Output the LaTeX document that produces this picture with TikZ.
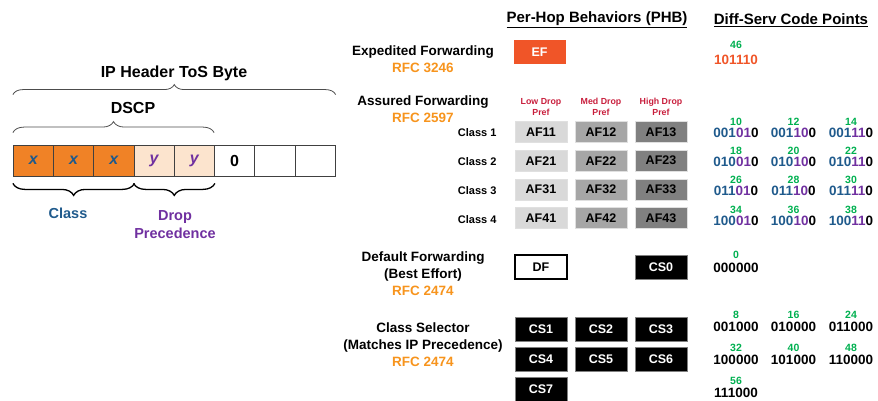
\documentclass[tikz,border=0pt]{standalone}
\usepackage{fontspec}
\setmainfont{Liberation Sans}
\usetikzlibrary{decorations.pathreplacing,positioning}
\definecolor{cellorange}{RGB}{240,130,38}
\definecolor{cellpeach}{RGB}{252,228,206}
\definecolor{clsblue}{RGB}{31,90,140}
\definecolor{dppurple}{RGB}{112,48,160}
\definecolor{rfcorange}{RGB}{247,148,29}
\definecolor{efred}{RGB}{240,85,40}
\definecolor{numgreen}{RGB}{0,176,80}
\definecolor{prefred}{RGB}{200,30,60}
\definecolor{afl}{RGB}{217,217,217}
\definecolor{afm}{RGB}{166,166,166}
\definecolor{afh}{RGB}{128,128,128}
\newcommand\bfs[2]{\fontsize{#1}{#2}\selectfont\bfseries}
\newcommand\dsbits[3]{\textcolor{clsblue}{#1}\textcolor{dppurple}{#2}#3}

\begin{document}
\begin{tikzpicture}[x=1pt,y=-1pt,
    cell/.style={draw=black!75,line width=.8pt,minimum width=40.25pt,minimum height=31pt,inner sep=0pt,font=\bfs{16}{16}},
    xcell/.style={cell,fill=cellorange,text=clsblue,font=\bfs{16}{16}\itshape},
    ycell/.style={cell,fill=cellpeach,text=dppurple,font=\bfs{16}{16}\itshape},
    topbrace/.style={decorate,decoration={brace,amplitude=#1},draw=black!70,line width=.8pt},
    lowbrace/.style={decorate,decoration={brace,amplitude=12pt,mirror},line width=1.3pt},
    group/.style={font=\bfs{13.5}{17},align=center},
    phb/.style={minimum width=52pt,minimum height=24pt,inner sep=0pt,font=\bfs{12.5}{12.5}},
    afbox/.style={phb,minimum height=21pt,draw=white!88!black,line width=.6pt},
    csbox/.style={phb,fill=black,text=white,draw=black!50},
    pref/.style={font=\bfs{8.8}{10.5},text=prefred,align=center,inner sep=1pt},
    num/.style={font=\bfs{10.5}{11},text=numgreen,inner sep=.5pt},
    bits/.style={font=\bfs{13.5}{14},inner sep=.5pt},
  ]
  \useasboundingbox (0,0) rectangle (878,401);
  % ToS byte
  \foreach \i/\kind/\bit in {1/xcell/x,2/xcell/x,3/xcell/x,4/ycell/y,5/ycell/y,6/cell/0,7/cell/{},8/cell/{}}
    \node[\kind] (c\i) at ({-6.85+40.25*\i},160.5) {\bit};
  \draw[topbrace=10pt] ([yshift=50pt]c1.north west) -- ([yshift=50pt]c8.north east);
  \draw[topbrace=11pt] ([yshift=12pt]c1.north west) -- ([yshift=12pt]c6.north west);
  \draw[lowbrace] ([yshift=-7pt]c1.south west) -- ([yshift=-7pt]c3.south east);
  \draw[lowbrace] ([yshift=-7pt]c4.south west) -- ([yshift=-7pt]c5.south east);
  \node[font=\bfs{16}{16}] (tos) at (174,73) {IP Header ToS Byte};
  \node[font=\bfs{16}{16}] (dscp) at (133,108) {DSCP};
  \node[font=\bfs{14.5}{18},text=clsblue] (class) at (68,213) {Class};
  \node[font=\bfs{14.5}{18},text=dppurple,align=center] (drop) at (175,225) {Drop\\Precedence};

  % headers
  \node[font=\bfs{15}{18}] (phbhdr) at (597,20) {\underline{Per-Hop Behaviors (PHB)}};
  \node[font=\bfs{15}{18}] (dscphdr) at (791,20) {\underline{Diff-Serv Code Points}};

  % EF
  \node[group] (eflbl) at (423,59.5) {Expedited Forwarding\\\textcolor{rfcorange}{RFC 3246}};
  \node[phb,fill=efred,text=white] (ef) at (539.5,52) {EF};
  \node[num] (n46) at (736,45) {46};
  \node[bits,text=efred] (b46) at (736,60) {101110};

  % AF
  \node[group] (aflbl) at (423,109.5) {Assured Forwarding\\\textcolor{rfcorange}{RFC 2597}};
  \foreach \c/\lvl in {1/Low,2/Med,3/High}
    \node[pref] (pref\c) at ({481+60*\c},107) {\lvl{} Drop\\Pref};
  \foreach \r/\clsbits in {1/001,2/010,3/011,4/100}{
    \node[font=\bfs{11}{11},anchor=east] (class\r) at (500,{133+28.7*(\r-1)}) {Class \r};
    \foreach \c/\tone/\dropbits in {1/afl/01,2/afm/10,3/afh/11}{
      \pgfmathtruncatemacro\afval{8*\r+2*\c}
      \node[afbox,fill=\tone] (af\r\c) at ({481+60*\c},{132+28.7*(\r-1)}) {AF\r\c};
      \node[bits] (afb\r\c) at ({678.5+57.5*\c},{132.5+29.3*(\r-1)}) {\dsbits{\clsbits}{\dropbits}{0}};
      \node[num] (afn\r\c) at ({678.5+57.5*\c},{121.5+29.3*(\r-1)}) {\afval};
    }
  }

  % DF
  \node[group] (dflbl) at (423,274) {Default Forwarding\\(Best Effort)\\\textcolor{rfcorange}{RFC 2474}};
  \node[phb,draw=black,line width=1.2pt,fill=white] (df) at (541,267) {DF};
  \node[csbox] (cs0) at (661,267) {CS0};
  \node[num] (n0) at (736,255) {0};
  \node[bits] (b0) at (736,268) {000000};

  % CS
  \node[group] (cslbl) at (423,345) {Class Selector\\(Matches IP Precedence)\\\textcolor{rfcorange}{RFC 2474}};
  \foreach \n/\pbits in {1/001,2/010,3/011,4/100,5/101,6/110,7/111}{
    \pgfmathtruncatemacro\csrow{(\n-1)/3}
    \pgfmathtruncatemacro\cscol{mod(\n-1,3)}
    \pgfmathtruncatemacro\csval{8*\n}
    \node[csbox] (cs\n) at ({541+60*\cscol},{329+30*\csrow}) {CS\n};
    \node[bits] (csb\n) at ({736+57.5*\cscol},{327+33*\csrow}) {\pbits000};
    \node[num] (csn\n) at ({736+57.5*\cscol},{315+33*\csrow}) {\csval};
  }
\end{tikzpicture}
\end{document}
